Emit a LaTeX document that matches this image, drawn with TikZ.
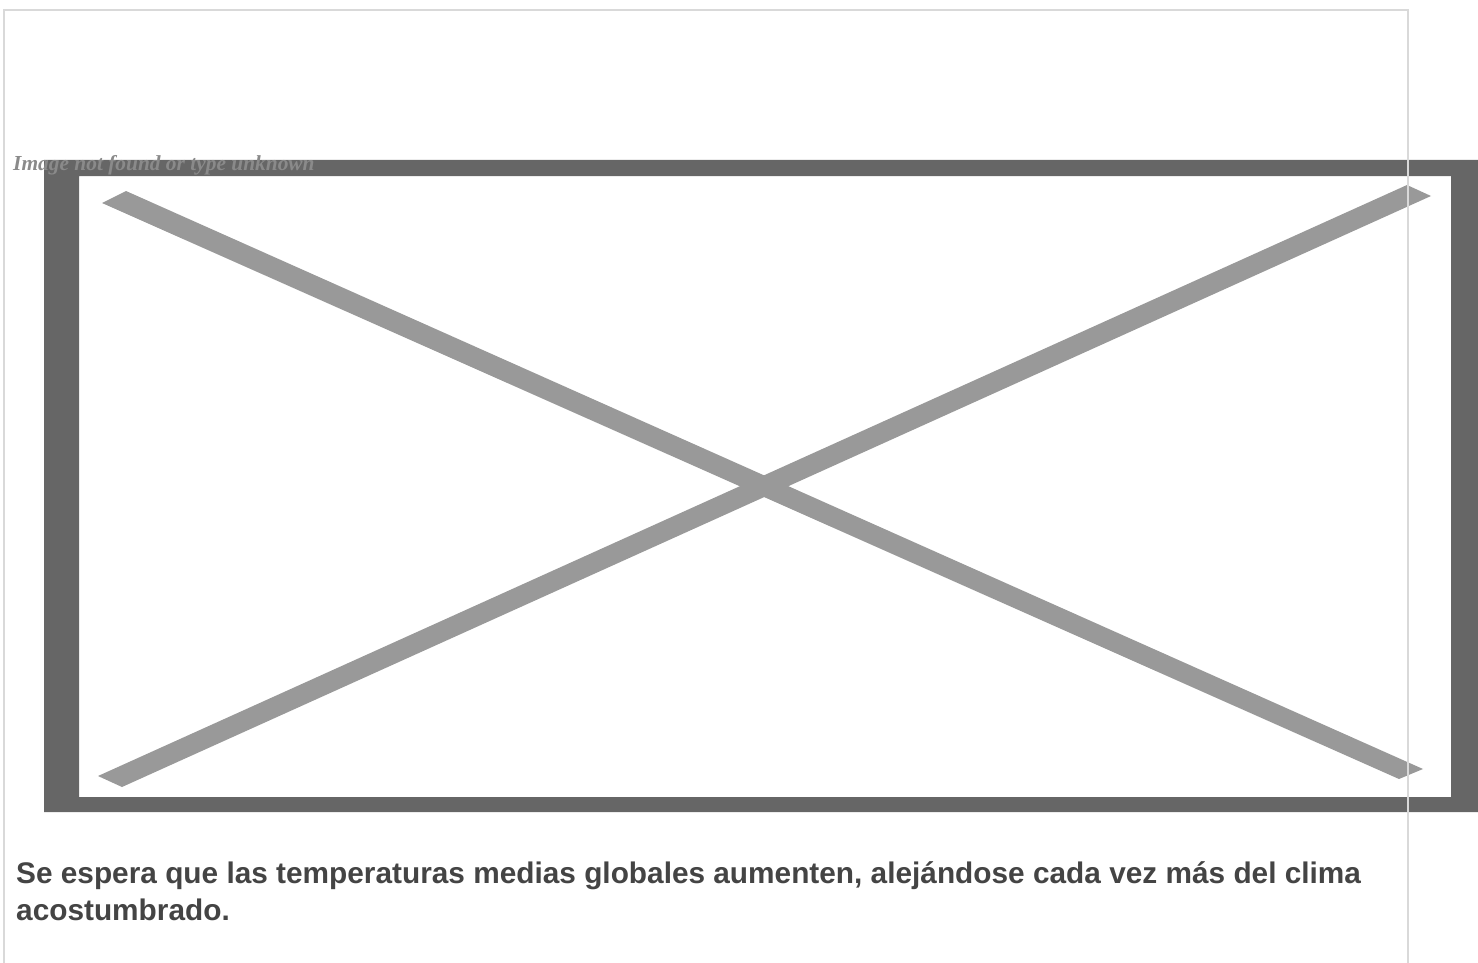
\documentclass[tikz,border=0pt]{standalone}
\usepackage{fontspec}
\setmainfont{Liberation Serif}
\setsansfont{Liberation Sans}
\definecolor{borderc}{HTML}{D9D9D9}
\definecolor{framec}{HTML}{666666}
\definecolor{stripc}{HTML}{999999}
\definecolor{missc}{HTML}{8A8A8A}
\definecolor{captc}{HTML}{444444}
\begin{document}
\begin{tikzpicture}[x=1pt,y=-1pt,
  frame/.style={fill=framec,even odd rule},
  strip/.style={fill=stripc},
  border/.style={draw=borderc,line width=2pt},
  missing/.style={font=\fontsize{21.4}{25}\selectfont\rmfamily\bfseries\itshape,text=missc,inner sep=0pt,anchor=base west},
  caption/.style={font=\fontsize{29.8}{34}\selectfont\sffamily\bfseries,text=captc,inner sep=0pt,anchor=base west}]
\useasboundingbox (0,0) rectangle (1478,963);
% dark frame
\path[frame] (44,160) rectangle (1478,812) (79,176) rectangle (1451,797);
% cross strips
\path[strip] (102,203) -- (126,191) -- (1423,769) -- (1399,779) -- cycle;
\path[strip] (98,776) -- (1407,185) -- (1431,196) -- (122,787) -- cycle;
% missing image text
\node[missing] (miss) at (13,171) {Image not found or type unknown};
% border
\draw[border] (3.5,980) -- (3.5,10) -- (1407.5,10) -- (1407.5,980);
% caption
\node[caption] (cap1) at (16,883) {Se espera que las temperaturas medias globales aumenten, alejándose cada vez más del clima};
\node[caption] (cap2) at (16,920) {acostumbrado.};
\end{tikzpicture}
\end{document}
